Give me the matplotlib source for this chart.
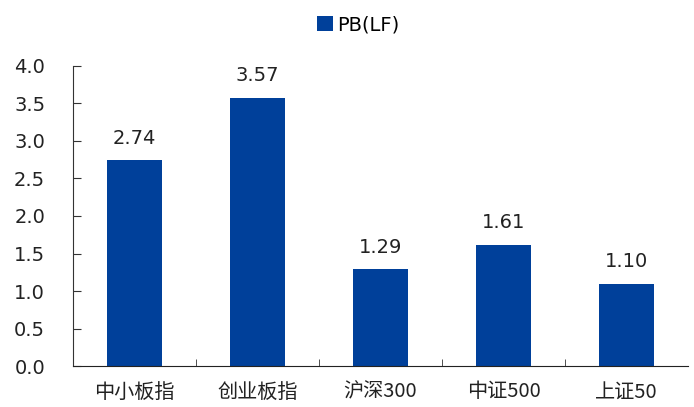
import matplotlib.pyplot as plt
import numpy as np

plt.rcParams['font.family'] = ['DejaVu Sans', 'Noto Sans CJK SC']

# PB(LF) by index
categories = ['中小板指', '创业板指', '沪深300', '中证500', '上证50']
pb_lf = [2.74, 3.57, 1.29, 1.61, 1.10]

bar_color = '#00409A'

fig = plt.figure(figsize=(6.94, 4.07), dpi=100)
ax = fig.add_axes([0.1052, 0.1002, 0.886, 0.7385])

x = np.arange(len(categories))
bars = ax.bar(x, pb_lf, width=0.45, color=bar_color, label='PB(LF)', zorder=2)

for xi, v in zip(x, pb_lf):
    ax.text(xi, v + 0.17, f'{v:.2f}', ha='center', va='bottom',
            fontsize=14, color='#222222')

ax.set_xlim(-0.5, len(categories) - 0.5)
ax.set_ylim(0, 4.0)
ax.set_yticks(np.arange(0, 4.01, 0.5))
ax.set_yticklabels([f'{t:.1f}' for t in np.arange(0, 4.01, 0.5)])

# category labels centred, boundary ticks pointing up
ax.set_xticks(x)
ax.set_xticklabels(categories, fontsize=14.5, family=['Noto Sans CJK SC', 'DejaVu Sans'],
                   color='#222222')
ax.tick_params(axis='x', length=0, pad=11)
ax.set_xticks(np.arange(0.5, len(categories) - 0.5, 1), minor=True)
ax.tick_params(axis='x', which='minor', direction='in', length=5, color='#333333')
ax.tick_params(axis='y', direction='in', length=6, labelsize=14, pad=20,
               color='#333333', labelcolor='#222222')

for s in ['top', 'right']:
    ax.spines[s].set_visible(False)
ax.spines['left'].set_color('#333333')
ax.spines['bottom'].set_color('#222222')

fig.legend(handles=[bars], labels=['PB(LF)'], loc='upper center',
           bbox_to_anchor=(0.516, 1.005), frameon=False, fontsize=14,
           handlelength=0.8, handleheight=0.8, handletextpad=0.2)

fig.savefig('out.png', dpi=100)
